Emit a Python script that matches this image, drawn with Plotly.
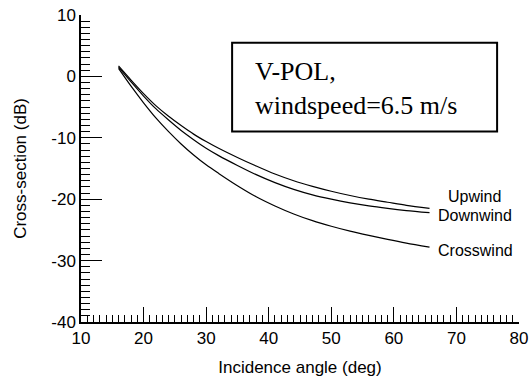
import plotly.graph_objects as go

angle = [16, 18, 20, 22, 24, 26, 28, 30, 32, 35, 38, 41, 44, 47, 50, 53, 56, 59, 62, 65.7]
upwind = [1.7, -0.6, -2.8, -4.8, -6.5, -8.0, -9.4, -10.6, -11.7, -13.2, -14.6, -15.9, -17.0, -17.9, -18.7, -19.4, -20.0, -20.5, -21.0, -21.5]
downwind = [1.5, -0.9, -3.2, -5.3, -7.1, -8.8, -10.3, -11.7, -12.9, -14.5, -16.0, -17.3, -18.4, -19.3, -20.0, -20.6, -21.1, -21.5, -21.85, -22.2]
crosswind = [1.3, -1.6, -4.3, -6.8, -9.0, -11.0, -12.8, -14.4, -15.8, -17.8, -19.6, -21.1, -22.4, -23.5, -24.4, -25.2, -25.9, -26.55, -27.15, -27.8]

x_ticks = [10, 20, 30, 40, 50, 60, 70, 80]
x_ticktext = ["10", "20", "30", "40", "50", "60", "70", "80"]
y_ticks = [10, 0, -10, -20, -30, -40]
y_ticktext = ["10", "0", "-10", "-20", "-30", "-40"]

series = [("Upwind", upwind), ("Downwind", downwind), ("Crosswind", crosswind)]
label_pos = {"Upwind": (68.5, -19.6), "Downwind": (66.9, -22.7), "Crosswind": (66.9, -28.3)}

sans = "Liberation Sans, Arial, Helvetica, sans-serif"
fig = go.Figure()
for name, vals in series:
    fig.add_trace(go.Scatter(x=angle, y=vals, mode="lines", name=name,
                             line=dict(color="black", width=1.2, shape="spline", smoothing=0.8),
                             showlegend=False))
    lx, ly = label_pos[name]
    fig.add_annotation(x=lx, y=ly, text=name, showarrow=False, xanchor="left",
                       yanchor="middle", borderpad=0,
                       font=dict(family=sans, size=16, color="black"))

fig.add_shape(type="rect", xref="paper", yref="paper", x0=0.345, x1=0.950, y0=0.6205, y1=0.910,
              line=dict(color="black", width=2), fillcolor="white", layer="above")
fig.add_annotation(xref="paper", yref="paper", x=0.393, y=0.762, text="V-POL,<br>windspeed=6.5 m/s",
                   showarrow=False, xanchor="left", yanchor="middle", align="left",
                   font=dict(family="Liberation Serif, Times New Roman, serif", size=26, color="black"))

axis_common = dict(showgrid=False, zeroline=False, showline=True, linecolor="black", linewidth=1.5,
                   ticks="inside", tickcolor="black", tickwidth=1.2, automargin=False,
                   tickfont=dict(family=sans, size=17, color="black"), mirror=False)
fig.update_xaxes(range=[10, 80], tickvals=x_ticks, ticktext=x_ticktext, ticklen=15,
                 minor=dict(dtick=1, ticks="inside", ticklen=7, tickcolor="black", tickwidth=1),
                 title=dict(text="Incidence angle (deg)", font=dict(family=sans, size=17, color="black"), standoff=14),
                 **axis_common)
fig.update_yaxes(range=[-40, 10], tickvals=y_ticks, ticktext=y_ticktext, ticklen=21,
                 minor=dict(dtick=1, ticks="inside", ticklen=9, tickcolor="black", tickwidth=1),
                 title=dict(text="Cross-section (dB)", font=dict(family=sans, size=17, color="black"), standoff=20),
                 **axis_common)
fig.update_layout(width=529, height=383, margin=dict(l=81, r=10, t=15, b=61),
                  plot_bgcolor="white", paper_bgcolor="white")
fig.write_html("out.html")
